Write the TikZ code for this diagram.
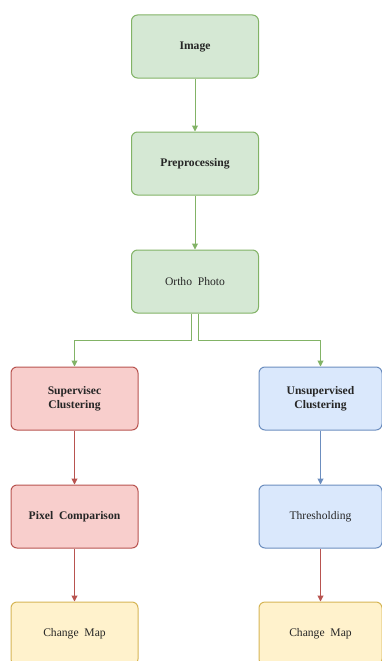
\documentclass[tikz,border=0pt]{standalone}
\usepackage{fontspec}
\setmainfont{Liberation Serif}
\usetikzlibrary{arrows.meta}

\definecolor{gfill}{HTML}{D5E8D4}
\definecolor{gline}{HTML}{82B366}
\definecolor{rfill}{HTML}{F8CECC}
\definecolor{rline}{HTML}{B85450}
\definecolor{bfill}{HTML}{DAE8FC}
\definecolor{bline}{HTML}{6C8EBF}
\definecolor{yfill}{HTML}{FFF2CC}
\definecolor{yline}{HTML}{D6B656}

\begin{document}
\begin{tikzpicture}[
    x=1pt, y=-1pt,
    >={Triangle[length=6pt, width=6pt]},
    box/.style={rectangle, rounded corners=6pt, line width=1pt,
                minimum width=127pt, minimum height=63pt, align=center,
                font=\fontsize{11.6}{14}\selectfont, text=black!85},
    green/.style={box, draw=gline, fill=gfill},
    red/.style={box, draw=rline, fill=rfill},
    blue/.style={box, draw=bline, fill=bfill, minimum width=123pt},
    yellow/.style={box, draw=yline, fill=yfill},
    garr/.style={->, line width=1pt, gline},
    rarr/.style={->, line width=1pt, rline},
    barr/.style={->, line width=1pt, bline},
]
  \useasboundingbox (0,0) rectangle (382,661);

  % Main column
  \node[green] (image) at (195, 46.5) {\bfseries Image};
  \node[green] (prep) at (195, 163.5) {\bfseries Preprocessing};
  \node[green] (ortho) at (195, 281.5) {Ortho\ \ Photo};

  % Supervised branch
  \node[red] (sup) at (74.5, 398.5) {\bfseries Supervisec\\\bfseries Clustering};
  \node[red] (pix) at (74.5, 516.5) {\bfseries Pixel\ \ Comparison};
  \node[yellow] (mapl) at (74.5, 633.5) {Change\ \ Map};

  % Unsupervised branch
  \node[blue] (uns) at (320.5, 398.5) {\bfseries Unsupervised\\\bfseries Clustering};
  \node[blue] (thr) at (320.5, 516.5) {Thresholding};
  \node[yellow, minimum width=123pt] (mapr) at (320.5, 633.5) {Change\ \ Map};

  % Connectors
  \draw[garr] (image) -- (prep);
  \draw[garr] (prep) -- (ortho);
  \draw[garr] ([xshift=-3.5pt]ortho.south) -- ++(0,27) -| (sup.north);
  \draw[garr] ([xshift=3.5pt]ortho.south) -- ++(0,27) -| (uns.north);
  \draw[rarr] (sup) -- (pix);
  \draw[rarr] (pix) -- (mapl);
  \draw[barr] (uns) -- (thr);
  \draw[rarr] (thr) -- (mapr);

\end{tikzpicture}
\end{document}
